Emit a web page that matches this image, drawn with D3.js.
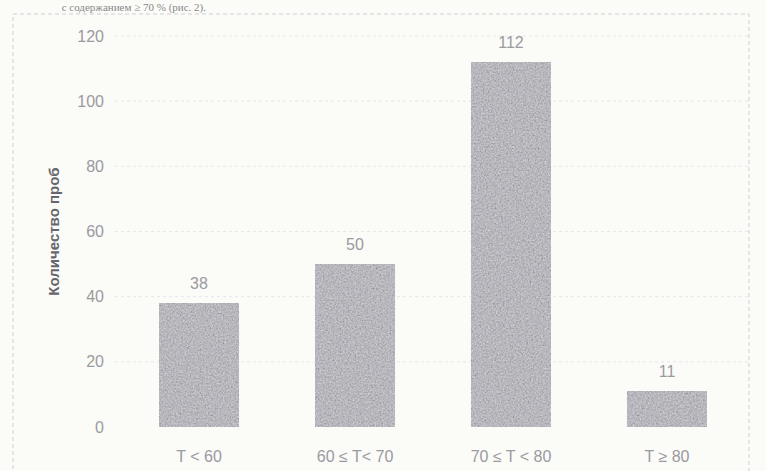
<!DOCTYPE html>
<html>
<head>
<meta charset="utf-8">
<script src="https://cdn.jsdelivr.net/npm/d3@7"></script>
<style>
  html, body { margin: 0; padding: 0; background: #fbfbf8; }
  svg { display: block; }
</style>
</head>
<body>
<div id="chart"></div>
<script>
// Distribution of samples by T range
const categories = ["T < 60", "60 ≤ T< 70", "70 ≤ T < 80", "T ≥ 80"];
const counts = [38, 50, 112, 11];
const yTicks = [0, 20, 40, 60, 80, 100, 120];
const yTitle = "Количество проб";
const captionTail = "с содержанием ≥ 70 % (рис. 2).";

const W = 766, H = 471;
const svg = d3.select("#chart").append("svg")
  .attr("width", W).attr("height", H)
  .style("background", "#fbfbf8");

// grain texture for the bars
const defs = svg.append("defs");
const f = defs.append("filter").attr("id", "grain")
  .attr("x", 0).attr("y", 0).attr("width", 1).attr("height", 1);
f.append("feTurbulence").attr("type", "fractalNoise")
  .attr("baseFrequency", 0.6).attr("numOctaves", 2).attr("seed", 7).attr("result", "noise");
f.append("feColorMatrix").attr("in", "noise").attr("type", "matrix")
  .attr("values", "0.33 0.33 0.33 0 0  0.33 0.33 0.33 0 0  0.33 0.33 0.33 0 0  0 0 0 0 1")
  .attr("result", "grey");
f.append("feComposite").attr("in", "SourceGraphic").attr("in2", "grey")
  .attr("operator", "arithmetic")
  .attr("k1", 0).attr("k2", 1).attr("k3", 0.8).attr("k4", -0.38)
  .attr("result", "mix");
f.append("feComposite").attr("in", "mix").attr("in2", "SourceGraphic").attr("operator", "in");

// line of text above the chart
svg.append("text")
  .attr("x", 206).attr("y", 11)
  .attr("text-anchor", "end")
  .attr("font-family", "Liberation Serif, serif")
  .attr("font-size", 11)
  .attr("fill", "#888")
  .text(captionTail);

// chart frame
svg.append("rect")
  .attr("x", 13).attr("y", 14).attr("width", 736).attr("height", 475)
  .attr("fill", "none")
  .attr("stroke", "#cfcfd5").attr("stroke-width", 1)
  .attr("stroke-dasharray", "4,3");

const y = d3.scaleLinear().domain([0, 120]).range([427, 36]);
const x = d3.scaleBand().domain(categories).range([121, 745])
  .paddingInner(0.487).paddingOuter(0.2436);

// gridlines
svg.append("g")
  .selectAll("line").data(yTicks.filter(d => d > 0)).join("line")
  .attr("x1", 115).attr("x2", 748)
  .attr("y1", d => y(d)).attr("y2", d => y(d))
  .attr("stroke", "#e6e6ea").attr("stroke-width", 1)
  .attr("stroke-dasharray", "3,3");

// y axis (labels only)
const yAxis = svg.append("g")
  .attr("transform", "translate(104,0)")
  .call(d3.axisLeft(y).tickValues(yTicks).tickSize(0).tickPadding(0));
yAxis.select(".domain").remove();
yAxis.selectAll("text")
  .attr("font-family", "Liberation Sans, Arial, sans-serif")
  .attr("font-size", 16)
  .attr("fill", "#9a9aa0");

// y title
svg.append("text")
  .attr("transform", `translate(59,${(y(0) + y(120)) / 2}) rotate(-90)`)
  .attr("text-anchor", "middle")
  .attr("font-family", "Liberation Sans, Arial, sans-serif")
  .attr("font-weight", "bold")
  .attr("font-size", 15)
  .attr("fill", "#66666c")
  .text(yTitle);

// bars
svg.append("g")
  .selectAll("rect").data(counts).join("rect")
  .attr("x", (d, i) => x(categories[i]))
  .attr("width", x.bandwidth())
  .attr("y", d => y(d))
  .attr("height", d => y(0) - y(d))
  .attr("fill", "#b4b4ba")
  .attr("filter", "url(#grain)");

// value labels
svg.append("g")
  .selectAll("text").data(counts).join("text")
  .attr("x", (d, i) => x(categories[i]) + x.bandwidth() / 2)
  .attr("y", d => y(d) - 14)
  .attr("text-anchor", "middle")
  .attr("font-family", "Liberation Sans, Arial, sans-serif")
  .attr("font-size", 16)
  .attr("fill", "#9a9aa0")
  .text(d => d);

// x axis (labels only)
const xAxis = svg.append("g")
  .attr("transform", "translate(0,451)")
  .call(d3.axisBottom(x).tickSize(0).tickPadding(0));
xAxis.select(".domain").remove();
xAxis.selectAll("text")
  .attr("font-family", "Liberation Sans, Arial, sans-serif")
  .attr("font-size", 16)
  .attr("fill", "#9a9aa0");
</script>
</body>
</html>
